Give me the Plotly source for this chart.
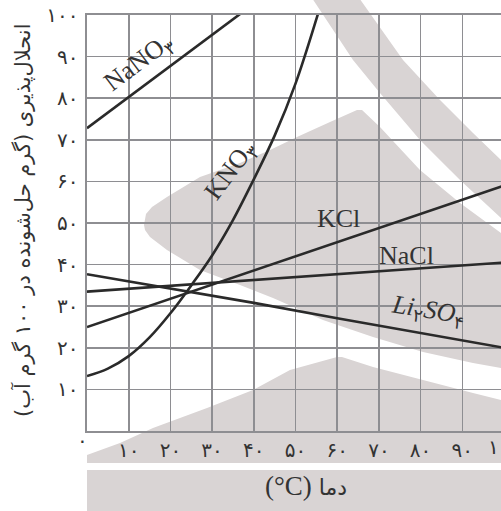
import plotly.graph_objects as go

# ---------------- data ----------------
nano3_x = [0, 10, 20, 30, 40]
nano3_y = [72.8, 80.3, 87.7, 95.2, 102.7]

kno3_x = [0, 5, 10, 15, 20, 25, 30, 35, 40, 45, 50, 55, 60]
kno3_y = [13.2, 15.0, 18.0, 22.5, 28.3, 35.0, 42.2, 50.7, 60.5, 71.0, 83.5, 99.0, 116.0]

kcl_x = [0, 20, 40, 60, 80, 100]
kcl_y = [25.0, 31.8, 38.6, 45.4, 52.2, 59.0]

nacl_x = [0, 20, 40, 60, 80, 100]
nacl_y = [33.5, 34.9, 36.3, 37.7, 39.1, 40.5]

li2so4_x = [0, 20, 40, 60, 80, 100]
li2so4_y = [37.7, 34.2, 30.8, 27.1, 23.6, 20.0]

x_ticks = [10, 20, 30, 40, 50, 60, 70, 80, 90]
y_ticks = [10, 20, 30, 40, 50, 60, 70, 80, 90, 100]

FA = "۰۱۲۳۴۵۶۷۸۹"
def fa(n):
    return "".join(FA[int(c)] for c in str(n))

x_ticktext = [fa(v) for v in x_ticks]
y_ticktext = [fa(v) for v in y_ticks]

RLM = "\u200f"
y_title = RLM + "انحلال‌پذیری (گرم حل‌شونده در ۱۰۰ گرم آب)" + RLM
x_title = ("<span style='font-family:Liberation Serif;font-size:27px'>(°C)</span> "
           "دما")

# ---------------- layout geometry ----------------
W, H = 501, 511
L, T = 87, 15
PW = W - L           # plot width in px (right edge cut by window)
PH = 416
XMAX = PW / 4.17     # x units visible

def px(xp):
    return (xp - L) / PW

def py(yp):
    return (T + PH - yp) / PH

GRAY = "#d9d4d4"
LINE = "#2a2a2a"
GRID = "#8e8e92"

# decorative background polygons (pixel space)
big_shape = [(144, 225), (146, 214), (152, 207), (167, 197), (200, 177), (240, 163), (270, 150),
             (297, 137), (330, 122), (357, 110), (362, 110), (380, 127), (420, 170),
             (460, 203), (501, 233), (515, 244), (515, 371), (501, 368), (473, 363),
             (423, 352), (373, 337), (323, 320), (273, 298), (240, 285), (200, 270),
             (167, 250), (150, 237), (145, 230)]
band = [(310, -5), (353, 60), (380, 93), (420, 140), (460, 180), (501, 218), (520, 236),
        (520, 178), (501, 160), (473, 133), (440, 100), (403, 60), (357, -5)]
mountain = [(87, 455), (120, 443), (153, 428), (207, 408), (253, 390), (290, 370),
            (337, 357), (342, 357), (373, 367), (423, 380), (473, 393), (501, 400),
            (515, 403), (515, 463), (87, 463)]
rect = [(87, 470), (515, 470), (515, 520), (87, 520)]

def path(poly):
    pts = [f"{px(a):.4f},{py(b):.4f}" for a, b in poly]
    return "M" + " L".join(pts) + " Z"

shapes = [dict(type="path", path=path(p), xref="paper", yref="paper",
               fillcolor=GRAY, line=dict(width=0), layer="below")
          for p in (big_shape, band, mountain, rect)]

fig = go.Figure()
for xs, ys, shp in [(nano3_x, nano3_y, "linear"), (kno3_x, kno3_y, "spline"),
                    (kcl_x, kcl_y, "linear"), (nacl_x, nacl_y, "linear"),
                    (li2so4_x, li2so4_y, "linear")]:
    fig.add_trace(go.Scatter(x=xs, y=ys, mode="lines", line=dict(color=LINE, width=2.6, shape=shp),
                             hoverinfo="skip", showlegend=False))

lab_font = dict(family="Liberation Serif, DejaVu Serif, serif", size=26, color="#333333")
labels = [
    (12.5, 88.5, "NaNO<sub>۳</sub>", -37),
    (34.5, 62.5, "KNO<sub>۳</sub>", -53),
    (60.4, 51.2, "KCl", 0),
    (76.7, 42.1, "NaCl", 0),
    (81.8, 28.8, "<i>Li</i><sub>۲</sub><i>SO</i><sub>۴</sub>", 9),
]
annotations = [dict(x=x, y=y, xref="x", yref="y", text=t, textangle=a, showarrow=False,
                    font=lab_font) for x, y, t, a in labels]

tick_font = dict(family="DejaVu Sans", size=20, color="#333333")
annotations += [
    dict(x=px(82), y=py(440), xref="paper", yref="paper", text=fa(0), showarrow=False,
         font=tick_font, xanchor="center", yanchor="middle"),
    dict(x=(100 / XMAX), y=py(447), xref="paper", yref="paper", text=fa(100), showarrow=False,
         font=tick_font, xanchor="center", yanchor="middle"),
    dict(x=px(22), y=py(220), xref="paper", yref="paper", text=y_title, textangle=-90,
         showarrow=False, font=dict(family="DejaVu Sans", size=21, color="#333333"),
         xanchor="center", yanchor="middle"),
    dict(x=px(306), y=py(486), xref="paper", yref="paper", text=x_title, showarrow=False,
         font=dict(family="DejaVu Sans", size=22, color="#333333"),
         xanchor="center", yanchor="middle"),
]

fig.update_layout(
    width=W, height=H,
    margin=dict(l=L, r=0, t=T, b=H - T - PH, pad=0),
    paper_bgcolor="white", plot_bgcolor="rgba(0,0,0,0)",
    shapes=shapes, annotations=annotations, showlegend=False,
)
fig.update_xaxes(range=[0, XMAX], tickvals=x_ticks, ticktext=x_ticktext, tickfont=tick_font,
                 showgrid=True, gridcolor=GRID, gridwidth=1.6, zeroline=False,
                 showline=True, linecolor=GRID, linewidth=1.6, mirror=True,
                 ticks="", ticklabelstandoff=0, fixedrange=True)
fig.update_yaxes(range=[0, 100], tickvals=y_ticks, ticktext=y_ticktext, tickfont=tick_font,
                 showgrid=True, gridcolor=GRID, gridwidth=1.6, zeroline=False,
                 showline=True, linecolor=GRID, linewidth=1.6,
                 ticks="", ticklabelstandoff=3, fixedrange=True)

fig.write_html(
    "out.html",
    config={"displayModeBar": False, "staticPlot": True},
    post_script="document.body.style.margin='0px';document.body.style.padding='0px';"
                "document.body.style.overflow='hidden';",
)
